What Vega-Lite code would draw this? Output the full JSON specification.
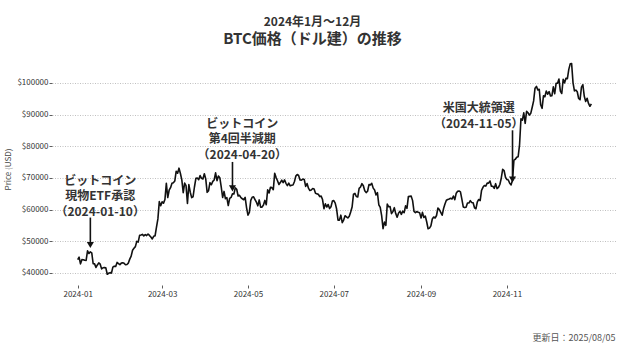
{
  "$schema": "https://vega.github.io/schema/vega-lite/v6.json",
  "autosize": "none",
  "width": 565,
  "height": 232,
  "padding": {"left": 52, "top": 53, "right": 7, "bottom": 66},
  "background": "white",
  "config": {
    "font": "Noto Sans CJK JP",
    "view": {"stroke": null},
    "axis": {"domain": false, "grid": false}
  },
  "title": {
    "text": "2024年1月〜12月",
    "subtitle": "BTC価格（ドル建）の推移",
    "fontSize": 12,
    "fontWeight": "bold",
    "color": "#333333",
    "subtitleFontSize": 15,
    "subtitleFontWeight": "bold",
    "subtitleColor": "#333333",
    "subtitlePadding": 3,
    "anchor": "middle",
    "frame": "group",
    "dx": -22,
    "offset": 5,
    "font": "Noto Sans CJK JP",
    "subtitleFont": "Noto Sans CJK JP"
  },
  "datasets": {
    "btc": [
      {"date":"2024-01-01","price":44180},{"date":"2024-01-02","price":44950},{"date":"2024-01-03","price":42850},{"date":"2024-01-04","price":44180},{"date":"2024-01-05","price":44160},{"date":"2024-01-06","price":43970},{"date":"2024-01-07","price":43930},{"date":"2024-01-08","price":46970},{"date":"2024-01-09","price":46110},{"date":"2024-01-10","price":46630},{"date":"2024-01-11","price":46340},{"date":"2024-01-12","price":42890},{"date":"2024-01-13","price":42850},{"date":"2024-01-14","price":41730},{"date":"2024-01-15","price":42510},{"date":"2024-01-16","price":43150},{"date":"2024-01-17","price":42740},{"date":"2024-01-18","price":41260},{"date":"2024-01-19","price":41620},{"date":"2024-01-20","price":41660},{"date":"2024-01-21","price":41580},{"date":"2024-01-22","price":39570},{"date":"2024-01-23","price":39890},{"date":"2024-01-24","price":40080},{"date":"2024-01-25","price":39940},{"date":"2024-01-26","price":41810},{"date":"2024-01-27","price":42120},{"date":"2024-01-28","price":42030},{"date":"2024-01-29","price":43300},{"date":"2024-01-30","price":42940},{"date":"2024-01-31","price":42580},
      {"date":"2024-02-01","price":43080},{"date":"2024-02-02","price":43190},{"date":"2024-02-03","price":43010},{"date":"2024-02-04","price":42580},{"date":"2024-02-05","price":42660},{"date":"2024-02-06","price":43090},{"date":"2024-02-07","price":44340},{"date":"2024-02-08","price":45300},{"date":"2024-02-09","price":47150},{"date":"2024-02-10","price":47770},{"date":"2024-02-11","price":48290},{"date":"2024-02-12","price":49960},{"date":"2024-02-13","price":49700},{"date":"2024-02-14","price":51840},{"date":"2024-02-15","price":51940},{"date":"2024-02-16","price":52160},{"date":"2024-02-17","price":51660},{"date":"2024-02-18","price":52120},{"date":"2024-02-19","price":51780},{"date":"2024-02-20","price":52280},{"date":"2024-02-21","price":51840},{"date":"2024-02-22","price":51300},{"date":"2024-02-23","price":50730},{"date":"2024-02-24","price":51570},{"date":"2024-02-25","price":51730},{"date":"2024-02-26","price":54490},{"date":"2024-02-27","price":57050},{"date":"2024-02-28","price":62500},{"date":"2024-02-29","price":61200},
      {"date":"2024-03-01","price":62440},{"date":"2024-03-02","price":62030},{"date":"2024-03-03","price":63170},{"date":"2024-03-04","price":68330},{"date":"2024-03-05","price":63800},{"date":"2024-03-06","price":66110},{"date":"2024-03-07","price":66930},{"date":"2024-03-08","price":68300},{"date":"2024-03-09","price":68500},{"date":"2024-03-10","price":69020},{"date":"2024-03-11","price":72120},{"date":"2024-03-12","price":71480},{"date":"2024-03-13","price":73080},{"date":"2024-03-14","price":71400},{"date":"2024-03-15","price":69400},{"date":"2024-03-16","price":65320},{"date":"2024-03-17","price":68390},{"date":"2024-03-18","price":67550},{"date":"2024-03-19","price":61910},{"date":"2024-03-20","price":67910},{"date":"2024-03-21","price":65490},{"date":"2024-03-22","price":63780},{"date":"2024-03-23","price":64060},{"date":"2024-03-24","price":67210},{"date":"2024-03-25","price":69880},{"date":"2024-03-26","price":69990},{"date":"2024-03-27","price":69460},{"date":"2024-03-28","price":70740},{"date":"2024-03-29","price":69890},{"date":"2024-03-30","price":69650},{"date":"2024-03-31","price":71330},
      {"date":"2024-04-01","price":69700},{"date":"2024-04-02","price":65450},{"date":"2024-04-03","price":65980},{"date":"2024-04-04","price":68500},{"date":"2024-04-05","price":67840},{"date":"2024-04-06","price":68900},{"date":"2024-04-07","price":69360},{"date":"2024-04-08","price":71620},{"date":"2024-04-09","price":69140},{"date":"2024-04-10","price":70590},{"date":"2024-04-11","price":70060},{"date":"2024-04-12","price":67200},{"date":"2024-04-13","price":63820},{"date":"2024-04-14","price":65740},{"date":"2024-04-15","price":63420},{"date":"2024-04-16","price":63810},{"date":"2024-04-17","price":61280},{"date":"2024-04-18","price":63510},{"date":"2024-04-19","price":63840},{"date":"2024-04-20","price":64990},{"date":"2024-04-21","price":64930},{"date":"2024-04-22","price":66840},{"date":"2024-04-23","price":66410},{"date":"2024-04-24","price":64290},{"date":"2024-04-25","price":64500},{"date":"2024-04-26","price":63760},{"date":"2024-04-27","price":63420},{"date":"2024-04-28","price":63110},{"date":"2024-04-29","price":63840},{"date":"2024-04-30","price":60640},
      {"date":"2024-05-01","price":58250},{"date":"2024-05-02","price":59120},{"date":"2024-05-03","price":62890},{"date":"2024-05-04","price":63890},{"date":"2024-05-05","price":64030},{"date":"2024-05-06","price":63160},{"date":"2024-05-07","price":62330},{"date":"2024-05-08","price":61190},{"date":"2024-05-09","price":63050},{"date":"2024-05-10","price":60790},{"date":"2024-05-11","price":60790},{"date":"2024-05-12","price":61450},{"date":"2024-05-13","price":62900},{"date":"2024-05-14","price":61550},{"date":"2024-05-15","price":66270},{"date":"2024-05-16","price":65230},{"date":"2024-05-17","price":67050},{"date":"2024-05-18","price":66940},{"date":"2024-05-19","price":66280},{"date":"2024-05-20","price":71450},{"date":"2024-05-21","price":70140},{"date":"2024-05-22","price":69120},{"date":"2024-05-23","price":67930},{"date":"2024-05-24","price":68530},{"date":"2024-05-25","price":69290},{"date":"2024-05-26","price":68500},{"date":"2024-05-27","price":69390},{"date":"2024-05-28","price":68300},{"date":"2024-05-29","price":67590},{"date":"2024-05-30","price":68360},{"date":"2024-05-31","price":67490},
      {"date":"2024-06-01","price":67710},{"date":"2024-06-02","price":67750},{"date":"2024-06-03","price":68800},{"date":"2024-06-04","price":70570},{"date":"2024-06-05","price":71080},{"date":"2024-06-06","price":70760},{"date":"2024-06-07","price":69340},{"date":"2024-06-08","price":69310},{"date":"2024-06-09","price":69650},{"date":"2024-06-10","price":69500},{"date":"2024-06-11","price":67320},{"date":"2024-06-12","price":68240},{"date":"2024-06-13","price":66750},{"date":"2024-06-14","price":66010},{"date":"2024-06-15","price":66190},{"date":"2024-06-16","price":66640},{"date":"2024-06-17","price":66490},{"date":"2024-06-18","price":65140},{"date":"2024-06-19","price":64960},{"date":"2024-06-20","price":64830},{"date":"2024-06-21","price":64100},{"date":"2024-06-22","price":64250},{"date":"2024-06-23","price":63180},{"date":"2024-06-24","price":60280},{"date":"2024-06-25","price":61800},{"date":"2024-06-26","price":60810},{"date":"2024-06-27","price":61600},{"date":"2024-06-28","price":60320},{"date":"2024-06-29","price":60890},{"date":"2024-06-30","price":62680},
      {"date":"2024-07-01","price":62850},{"date":"2024-07-02","price":62030},{"date":"2024-07-03","price":60170},{"date":"2024-07-04","price":56660},{"date":"2024-07-05","price":56660},{"date":"2024-07-06","price":58230},{"date":"2024-07-07","price":55850},{"date":"2024-07-08","price":56700},{"date":"2024-07-09","price":58050},{"date":"2024-07-10","price":57720},{"date":"2024-07-11","price":57340},{"date":"2024-07-12","price":57900},{"date":"2024-07-13","price":59230},{"date":"2024-07-14","price":60790},{"date":"2024-07-15","price":64870},{"date":"2024-07-16","price":65100},{"date":"2024-07-17","price":64120},{"date":"2024-07-18","price":63970},{"date":"2024-07-19","price":66710},{"date":"2024-07-20","price":67150},{"date":"2024-07-21","price":68190},{"date":"2024-07-22","price":67550},{"date":"2024-07-23","price":65940},{"date":"2024-07-24","price":65370},{"date":"2024-07-25","price":65780},{"date":"2024-07-26","price":67910},{"date":"2024-07-27","price":67810},{"date":"2024-07-28","price":68260},{"date":"2024-07-29","price":66780},{"date":"2024-07-30","price":66200},{"date":"2024-07-31","price":64620},
      {"date":"2024-08-01","price":65350},{"date":"2024-08-02","price":61500},{"date":"2024-08-03","price":60680},{"date":"2024-08-04","price":58120},{"date":"2024-08-05","price":53990},{"date":"2024-08-06","price":56030},{"date":"2024-08-07","price":55030},{"date":"2024-08-08","price":61710},{"date":"2024-08-09","price":60880},{"date":"2024-08-10","price":60940},{"date":"2024-08-11","price":58710},{"date":"2024-08-12","price":59350},{"date":"2024-08-13","price":60610},{"date":"2024-08-14","price":58740},{"date":"2024-08-15","price":57560},{"date":"2024-08-16","price":58870},{"date":"2024-08-17","price":59480},{"date":"2024-08-18","price":58480},{"date":"2024-08-19","price":59490},{"date":"2024-08-20","price":59010},{"date":"2024-08-21","price":61180},{"date":"2024-08-22","price":60380},{"date":"2024-08-23","price":64090},{"date":"2024-08-24","price":64180},{"date":"2024-08-25","price":64250},{"date":"2024-08-26","price":62830},{"date":"2024-08-27","price":59420},{"date":"2024-08-28","price":59030},{"date":"2024-08-29","price":59370},{"date":"2024-08-30","price":59120},{"date":"2024-08-31","price":58970},
      {"date":"2024-09-01","price":57330},{"date":"2024-09-02","price":59120},{"date":"2024-09-03","price":57480},{"date":"2024-09-04","price":57970},{"date":"2024-09-05","price":56160},{"date":"2024-09-06","price":53950},{"date":"2024-09-07","price":54140},{"date":"2024-09-08","price":54840},{"date":"2024-09-09","price":57020},{"date":"2024-09-10","price":57650},{"date":"2024-09-11","price":57340},{"date":"2024-09-12","price":58130},{"date":"2024-09-13","price":60500},{"date":"2024-09-14","price":59990},{"date":"2024-09-15","price":59130},{"date":"2024-09-16","price":58210},{"date":"2024-09-17","price":60310},{"date":"2024-09-18","price":61760},{"date":"2024-09-19","price":62950},{"date":"2024-09-20","price":63200},{"date":"2024-09-21","price":63350},{"date":"2024-09-22","price":63580},{"date":"2024-09-23","price":63340},{"date":"2024-09-24","price":64260},{"date":"2024-09-25","price":63140},{"date":"2024-09-26","price":65180},{"date":"2024-09-27","price":65790},{"date":"2024-09-28","price":65890},{"date":"2024-09-29","price":65600},{"date":"2024-09-30","price":63330},
      {"date":"2024-10-01","price":60840},{"date":"2024-10-02","price":60630},{"date":"2024-10-03","price":60750},{"date":"2024-10-04","price":62090},{"date":"2024-10-05","price":62060},{"date":"2024-10-06","price":62820},{"date":"2024-10-07","price":62220},{"date":"2024-10-08","price":62130},{"date":"2024-10-09","price":60580},{"date":"2024-10-10","price":60270},{"date":"2024-10-11","price":62450},{"date":"2024-10-12","price":63190},{"date":"2024-10-13","price":62850},{"date":"2024-10-14","price":66080},{"date":"2024-10-15","price":67040},{"date":"2024-10-16","price":67620},{"date":"2024-10-17","price":67420},{"date":"2024-10-18","price":68360},{"date":"2024-10-19","price":68360},{"date":"2024-10-20","price":69030},{"date":"2024-10-21","price":67370},{"date":"2024-10-22","price":67380},{"date":"2024-10-23","price":66680},{"date":"2024-10-24","price":68180},{"date":"2024-10-25","price":66640},{"date":"2024-10-26","price":67010},{"date":"2024-10-27","price":67930},{"date":"2024-10-28","price":69910},{"date":"2024-10-29","price":72720},{"date":"2024-10-30","price":72340},{"date":"2024-10-31","price":70220},
      {"date":"2024-11-01","price":69480},{"date":"2024-11-02","price":69360},{"date":"2024-11-03","price":68300},{"date":"2024-11-04","price":67810},{"date":"2024-11-05","price":69360},{"date":"2024-11-06","price":75640},{"date":"2024-11-07","price":75900},{"date":"2024-11-08","price":76550},{"date":"2024-11-09","price":76700},{"date":"2024-11-10","price":80470},{"date":"2024-11-11","price":88700},{"date":"2024-11-12","price":88260},{"date":"2024-11-13","price":90580},{"date":"2024-11-14","price":87250},{"date":"2024-11-15","price":91070},{"date":"2024-11-16","price":90590},{"date":"2024-11-17","price":89850},{"date":"2024-11-18","price":90460},{"date":"2024-11-19","price":92340},{"date":"2024-11-20","price":94340},{"date":"2024-11-21","price":98370},{"date":"2024-11-22","price":98920},{"date":"2024-11-23","price":97780},{"date":"2024-11-24","price":98010},{"date":"2024-11-25","price":93100},{"date":"2024-11-26","price":91990},{"date":"2024-11-27","price":95960},{"date":"2024-11-28","price":95640},{"date":"2024-11-29","price":97460},{"date":"2024-11-30","price":96450},
      {"date":"2024-12-01","price":97280},{"date":"2024-12-02","price":95870},{"date":"2024-12-03","price":96000},{"date":"2024-12-04","price":98770},{"date":"2024-12-05","price":96590},{"date":"2024-12-06","price":99920},{"date":"2024-12-07","price":99920},{"date":"2024-12-08","price":101240},{"date":"2024-12-09","price":97430},{"date":"2024-12-10","price":96680},{"date":"2024-12-11","price":101170},{"date":"2024-12-12","price":100040},{"date":"2024-12-13","price":101460},{"date":"2024-12-14","price":101370},{"date":"2024-12-15","price":104300},{"date":"2024-12-16","price":106030},{"date":"2024-12-17","price":106140},{"date":"2024-12-18","price":100040},{"date":"2024-12-19","price":97490},{"date":"2024-12-20","price":97760},{"date":"2024-12-21","price":97220},{"date":"2024-12-22","price":95100},{"date":"2024-12-23","price":94690},{"date":"2024-12-24","price":98680},{"date":"2024-12-25","price":99430},{"date":"2024-12-26","price":95790},{"date":"2024-12-27","price":94160},{"date":"2024-12-28","price":95160},{"date":"2024-12-29","price":93530},{"date":"2024-12-30","price":92640},{"date":"2024-12-31","price":93430}
    ],
    "events": [
      {"date":"2024-01-10","label_date":"2024-01-17","label_top":70610,"top":57480,"tip":47700,"head":48800,"label":"ビットコイン\n現物ETF承認\n（2024-01-10）"},
      {"date":"2024-04-20","label_date":"2024-04-27","label_top":88620,"top":75050,"tip":65580,"head":66700,"label":"ビットコイン\n第4回半減期\n（2024-04-20）"},
      {"date":"2024-11-05","label_date":"2024-10-12","label_top":93600,"top":85050,"tip":68420,"head":69520,"label":"米国大統領選\n（2024-11-05）"}
    ]
  },
  "layer": [
    {
      "data": {"name": "btc"},
      "mark": {"type": "line", "color": "#111111", "strokeWidth": 1.6, "strokeJoin": "round"},
      "encoding": {
        "x": {
          "field": "date", "type": "temporal",
          "scale": {"type": "utc", "domain": [{"year": 2023, "month": 12, "date": 13, "hours": 18, "utc": true}, {"year": 2025, "month": 1, "date": 18, "hours": 6, "utc": true}], "nice": false},
          "axis": {
            "values": [{"year": 2024, "month": 1, "date": 1, "utc": true}, {"year": 2024, "month": 3, "date": 1, "utc": true}, {"year": 2024, "month": 5, "date": 1, "utc": true}, {"year": 2024, "month": 7, "date": 1, "utc": true}, {"year": 2024, "month": 9, "date": 1, "utc": true}, {"year": 2024, "month": 11, "date": 1, "utc": true}],
            "labelExpr": "utcFormat(datum.value, '%Y-%m')",
            "labelFontSize": 8, "labelColor": "#333333", "labelPadding": 2, "labelFont": "Noto Sans CJK JP",
            "tickSize": 3, "tickColor": "#333333", "tickWidth": 0.8,
            "domain": false, "grid": false,
            "title": "更新日：2025/08/05",
            "titleFontSize": 9, "titleFontWeight": "normal", "titleColor": "#555555",
            "titleAlign": "right", "titleAnchor": "end", "titleX": 563, "titleY": 52, "titleBaseline": "middle",
            "titleFont": "Noto Sans CJK JP"
          }
        },
        "y": {
          "field": "price", "type": "quantitative",
          "scale": {"domain": [36170, 109470], "nice": false, "zero": false},
          "axis": {
            "values": [40000, 50000, 60000, 70000, 80000, 90000, 100000],
            "labelExpr": "'$' + datum.value",
            "labelFontSize": 8, "labelColor": "#333333", "labelPadding": 1, "labelFont": "Noto Sans CJK JP",
            "tickSize": 3, "tickColor": "#333333", "tickWidth": 0.8,
            "domain": false,
            "grid": true, "gridColor": "#b0b0b0", "gridDash": [1, 1.5], "gridWidth": 0.8,
            "title": "Price (USD)", "titleFontSize": 8, "titleFontWeight": "normal", "titleColor": "#444444", "titlePadding": 4,
            "titleFont": "Noto Sans CJK JP"
          }
        }
      }
    },
    {
      "data": {"name": "events"},
      "mark": {"type": "rule", "color": "#111111", "strokeWidth": 1.6},
      "encoding": {
        "x": {
          "field": "date", "type": "temporal",
          "scale": {"type": "utc", "domain": [{"year": 2023, "month": 12, "date": 13, "hours": 18, "utc": true}, {"year": 2025, "month": 1, "date": 18, "hours": 6, "utc": true}], "nice": false},
          "axis": {
            "values": [{"year": 2024, "month": 1, "date": 1, "utc": true}, {"year": 2024, "month": 3, "date": 1, "utc": true}, {"year": 2024, "month": 5, "date": 1, "utc": true}, {"year": 2024, "month": 7, "date": 1, "utc": true}, {"year": 2024, "month": 9, "date": 1, "utc": true}, {"year": 2024, "month": 11, "date": 1, "utc": true}],
            "labelExpr": "utcFormat(datum.value, '%Y-%m')",
            "labelFontSize": 8, "labelColor": "#333333", "labelPadding": 2, "labelFont": "Noto Sans CJK JP",
            "tickSize": 3, "tickColor": "#333333", "tickWidth": 0.8,
            "domain": false, "grid": false,
            "title": "更新日：2025/08/05",
            "titleFontSize": 9, "titleFontWeight": "normal", "titleColor": "#555555",
            "titleAlign": "right", "titleAnchor": "end", "titleX": 563, "titleY": 52, "titleBaseline": "middle",
            "titleFont": "Noto Sans CJK JP"
          }
        },
        "y": {
          "field": "top", "type": "quantitative",
          "scale": {"domain": [36170, 109470], "nice": false, "zero": false},
          "axis": {
            "values": [40000, 50000, 60000, 70000, 80000, 90000, 100000],
            "labelExpr": "'$' + datum.value",
            "labelFontSize": 8, "labelColor": "#333333", "labelPadding": 1, "labelFont": "Noto Sans CJK JP",
            "tickSize": 3, "tickColor": "#333333", "tickWidth": 0.8,
            "domain": false,
            "grid": true, "gridColor": "#b0b0b0", "gridDash": [1, 1.5], "gridWidth": 0.8,
            "title": "Price (USD)", "titleFontSize": 8, "titleFontWeight": "normal", "titleColor": "#444444", "titlePadding": 4,
            "titleFont": "Noto Sans CJK JP"
          }
        },
        "y2": {"field": "head"}
      }
    },
    {
      "data": {"name": "events"},
      "mark": {"type": "point", "shape": "triangle-down", "filled": true, "color": "#111111", "size": 50, "opacity": 1},
      "encoding": {
        "x": {
          "field": "date", "type": "temporal",
          "scale": {"type": "utc", "domain": [{"year": 2023, "month": 12, "date": 13, "hours": 18, "utc": true}, {"year": 2025, "month": 1, "date": 18, "hours": 6, "utc": true}], "nice": false},
          "axis": {
            "values": [{"year": 2024, "month": 1, "date": 1, "utc": true}, {"year": 2024, "month": 3, "date": 1, "utc": true}, {"year": 2024, "month": 5, "date": 1, "utc": true}, {"year": 2024, "month": 7, "date": 1, "utc": true}, {"year": 2024, "month": 9, "date": 1, "utc": true}, {"year": 2024, "month": 11, "date": 1, "utc": true}],
            "labelExpr": "utcFormat(datum.value, '%Y-%m')",
            "labelFontSize": 8, "labelColor": "#333333", "labelPadding": 2, "labelFont": "Noto Sans CJK JP",
            "tickSize": 3, "tickColor": "#333333", "tickWidth": 0.8,
            "domain": false, "grid": false,
            "title": "更新日：2025/08/05",
            "titleFontSize": 9, "titleFontWeight": "normal", "titleColor": "#555555",
            "titleAlign": "right", "titleAnchor": "end", "titleX": 563, "titleY": 52, "titleBaseline": "middle",
            "titleFont": "Noto Sans CJK JP"
          }
        },
        "y": {
          "field": "head", "type": "quantitative",
          "scale": {"domain": [36170, 109470], "nice": false, "zero": false},
          "axis": {
            "values": [40000, 50000, 60000, 70000, 80000, 90000, 100000],
            "labelExpr": "'$' + datum.value",
            "labelFontSize": 8, "labelColor": "#333333", "labelPadding": 1, "labelFont": "Noto Sans CJK JP",
            "tickSize": 3, "tickColor": "#333333", "tickWidth": 0.8,
            "domain": false,
            "grid": true, "gridColor": "#b0b0b0", "gridDash": [1, 1.5], "gridWidth": 0.8,
            "title": "Price (USD)", "titleFontSize": 8, "titleFontWeight": "normal", "titleColor": "#444444", "titlePadding": 4,
            "titleFont": "Noto Sans CJK JP"
          }
        }
      }
    },
    {
      "data": {"name": "events"},
      "mark": {"type": "text", "lineBreak": "\n", "fontSize": 12, "fontWeight": "bold", "color": "#333333", "baseline": "top", "align": "center", "lineHeight": 15.5, "font": "Noto Sans CJK JP"},
      "encoding": {
        "x": {
          "field": "label_date", "type": "temporal",
          "scale": {"type": "utc", "domain": [{"year": 2023, "month": 12, "date": 13, "hours": 18, "utc": true}, {"year": 2025, "month": 1, "date": 18, "hours": 6, "utc": true}], "nice": false},
          "axis": {
            "values": [{"year": 2024, "month": 1, "date": 1, "utc": true}, {"year": 2024, "month": 3, "date": 1, "utc": true}, {"year": 2024, "month": 5, "date": 1, "utc": true}, {"year": 2024, "month": 7, "date": 1, "utc": true}, {"year": 2024, "month": 9, "date": 1, "utc": true}, {"year": 2024, "month": 11, "date": 1, "utc": true}],
            "labelExpr": "utcFormat(datum.value, '%Y-%m')",
            "labelFontSize": 8, "labelColor": "#333333", "labelPadding": 2, "labelFont": "Noto Sans CJK JP",
            "tickSize": 3, "tickColor": "#333333", "tickWidth": 0.8,
            "domain": false, "grid": false,
            "title": "更新日：2025/08/05",
            "titleFontSize": 9, "titleFontWeight": "normal", "titleColor": "#555555",
            "titleAlign": "right", "titleAnchor": "end", "titleX": 563, "titleY": 52, "titleBaseline": "middle",
            "titleFont": "Noto Sans CJK JP"
          }
        },
        "y": {
          "field": "label_top", "type": "quantitative",
          "scale": {"domain": [36170, 109470], "nice": false, "zero": false},
          "axis": {
            "values": [40000, 50000, 60000, 70000, 80000, 90000, 100000],
            "labelExpr": "'$' + datum.value",
            "labelFontSize": 8, "labelColor": "#333333", "labelPadding": 1, "labelFont": "Noto Sans CJK JP",
            "tickSize": 3, "tickColor": "#333333", "tickWidth": 0.8,
            "domain": false,
            "grid": true, "gridColor": "#b0b0b0", "gridDash": [1, 1.5], "gridWidth": 0.8,
            "title": "Price (USD)", "titleFontSize": 8, "titleFontWeight": "normal", "titleColor": "#444444", "titlePadding": 4,
            "titleFont": "Noto Sans CJK JP"
          }
        },
        "text": {"field": "label"}
      }
    }
  ]
}
